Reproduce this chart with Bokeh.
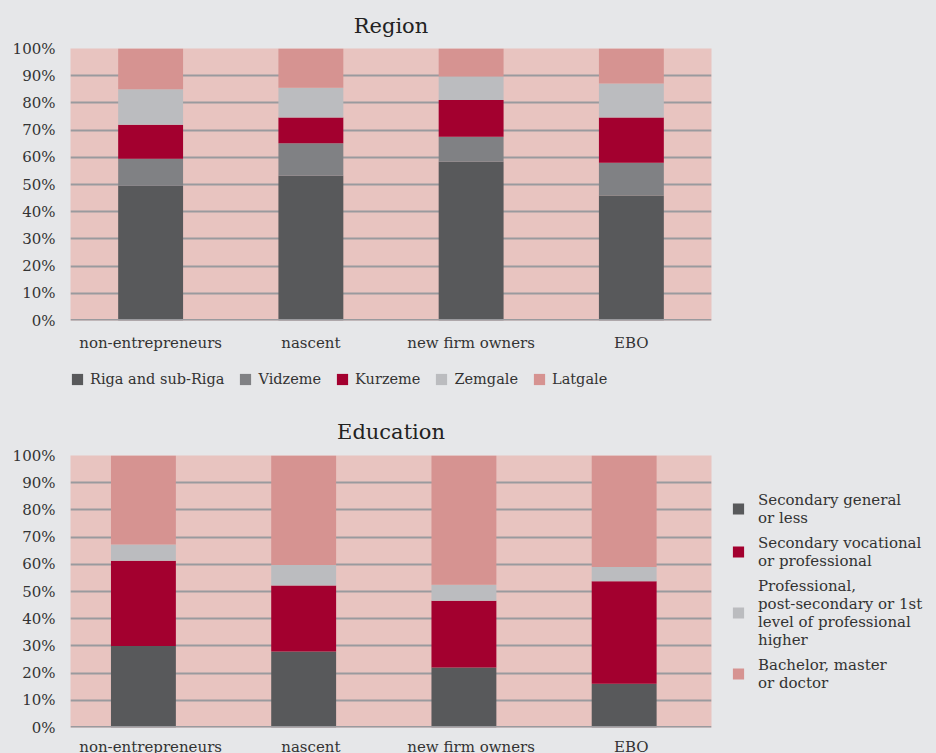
from bokeh.plotting import figure
from bokeh.models import FixedTicker, PrintfTickFormatter, Span, Legend, FactorRange
from bokeh.transform import dodge
from bokeh.layouts import column
from bokeh.embed import file_html
from bokeh.resources import INLINE

categories = ["non-entrepreneurs", "nascent", "new firm owners", "EBO"]

region_names = ["Riga and sub-Riga", "Vidzeme", "Kurzeme", "Zemgale", "Latgale"]
riga = [49.5, 53.2, 58.4, 46.0]
vidzeme = [10.0, 12.0, 9.2, 12.0]
kurzeme = [12.5, 9.4, 13.5, 16.6]
zemgale = [13.0, 11.0, 8.6, 12.5]
latgale = [15.0, 15.1, 10.5, 12.9]

edu_names = ["Secondary general\nor less",
             "Secondary vocational\nor professional",
             "Professional,\npost-secondary or 1st\nlevel of professional\nhigher",
             "Bachelor, master\nor doctor"]
sec_general = [30.0, 27.9, 22.1, 16.1]
sec_vocational = [31.3, 24.3, 24.5, 37.7]
professional = [6.0, 7.5, 5.9, 5.2]
bachelor = [32.7, 40.6, 47.8, 41.0]

y_ticks = [0, 10, 20, 30, 40, 50, 60, 70, 80, 90, 100]

FONT = "DejaVu Serif"
PAGE = "#e6e7e9"
PLOT_BG = "#e8c4c0"
GRID = "#9a9a9e"
TEXT = "#333333"
C_DARK = "#58595b"
C_MID = "#808184"
C_RED = "#a3002f"
C_LIGHT = "#bbbcbf"
C_PINK = "#d69391"
REGION_COLORS = [C_DARK, C_MID, C_RED, C_LIGHT, C_PINK]
EDU_COLORS = [C_DARK, C_RED, C_LIGHT, C_PINK]
REGION_KEYS = ["riga", "vidzeme", "kurzeme", "zemgale", "latgale"]


def base_fig(title, top, bottom, standoff):
    p = figure(x_range=FactorRange(*categories, range_padding=0), y_range=(0, 100),
               frame_width=641, frame_height=272,
               output_backend="svg", toolbar_location=None,
               min_border_left=70, min_border_right=225, min_border_top=top,
               min_border_bottom=bottom, title=title)
    p.title.align = "center"
    p.title.text_font = FONT
    p.title.text_font_size = "21px"
    p.title.text_font_style = "normal"
    p.title.text_color = "#222222"
    p.title.standoff = standoff
    p.background_fill_color = PLOT_BG
    p.border_fill_color = PAGE
    p.outline_line_color = None
    p.xgrid.grid_line_color = None
    p.ygrid.grid_line_color = GRID
    p.ygrid.grid_line_width = 2
    p.yaxis.ticker = FixedTicker(ticks=y_ticks)
    p.yaxis.formatter = PrintfTickFormatter(format="%d%%")
    for ax in (p.xaxis, p.yaxis):
        ax.axis_line_color = None
        ax.major_tick_line_color = None
        ax.minor_tick_line_color = None
        ax.major_label_text_font = FONT
        ax.major_label_text_font_size = "15px"
        ax.major_label_text_color = TEXT
    p.yaxis.major_label_standoff = 9
    p.add_layout(Span(location=0, dimension="width", line_color=GRID, line_width=3))
    return p


src1 = dict(cat=categories, riga=riga, vidzeme=vidzeme, kurzeme=kurzeme,
            zemgale=zemgale, latgale=latgale)

# ---- Region ----
p1 = base_fig("Region", 47, 41, 22)
p1.vbar_stack(REGION_KEYS, x="cat", width=0.405, color=REGION_COLORS,
              line_color=None, source=src1)
p1.xaxis.major_label_standoff = 7

# legend strip for the Region chart (its bars have zero width and lie outside the view)
pl = figure(frame_width=866, frame_height=35, x_range=FactorRange(*categories),
            y_range=(-2, -1), output_backend="svg", toolbar_location=None,
            min_border_left=70, min_border_right=0, min_border_top=0, min_border_bottom=0)
pl.axis.visible = False
pl.grid.grid_line_color = None
pl.outline_line_color = None
pl.background_fill_color = PAGE
pl.border_fill_color = PAGE
rl = pl.vbar_stack(REGION_KEYS, x="cat", width=0, color=REGION_COLORS,
                   line_color=None, source=src1)
leg1 = Legend(items=[(n, [r]) for n, r in zip(region_names, rl)],
              orientation="horizontal", location="left",
              background_fill_alpha=0, border_line_color=None,
              label_text_font=FONT, label_text_font_size="14.5px", label_text_color=TEXT,
              glyph_width=14, glyph_height=14, label_standoff=6, spacing=14,
              padding=2, margin=0)
pl.add_layout(leg1)

# ---- Education ----
p2 = base_fig("Education", 59, 27, 24)
src2 = dict(cat=categories, gen=sec_general, voc=sec_vocational,
            prof=professional, bach=bachelor)
r2 = p2.vbar_stack(["gen", "voc", "prof", "bach"],
                   x=dodge("cat", -0.045, range=p2.x_range),
                   width=0.405, color=EDU_COLORS, line_color=None, source=src2)
p2.xaxis.major_label_standoff = 4
leg2 = Legend(items=[(n, [r]) for n, r in zip(edu_names, r2)],
              location="center_left", background_fill_alpha=0, border_line_color=None,
              label_text_font=FONT, label_text_font_size="15px", label_text_color=TEXT,
              glyph_width=14, glyph_height=14, label_standoff=13, spacing=7,
              padding=10, margin=20, label_text_line_height=1.3)
p2.add_layout(leg2, "right")

layout = column(p1, pl, p2, spacing=0)
layout.styles = {"background-color": PAGE}

open("out.html", "w").write(file_html(layout, INLINE))
